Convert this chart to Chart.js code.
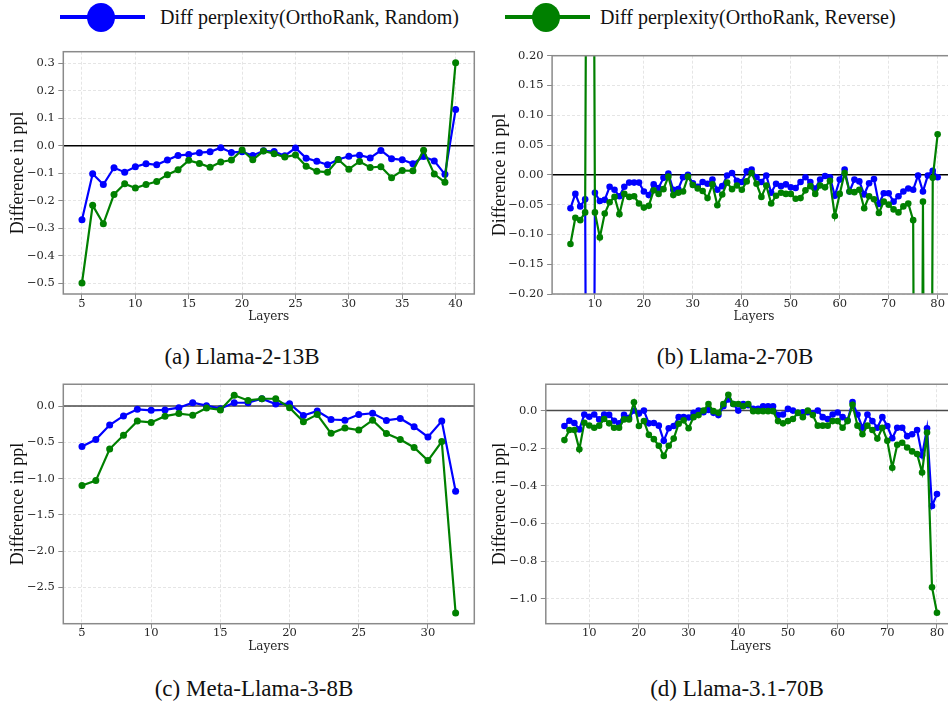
<!DOCTYPE html>
<html lang="en">
<head>
<meta charset="UTF-8">
<title>Diff perplexity OrthoRank</title>
<script src="https://cdn.jsdelivr.net/npm/chart.js"></script>
<style>
  body { margin: 0; width: 948px; height: 702px; overflow: hidden; position: relative; background: #fff; }
  canvas { position: absolute; }
  .cap { position: absolute; font-family: 'Liberation Serif', serif; font-size: 23px; line-height: 1; white-space: nowrap; transform: translateX(-50%); color: #111; }
  .legline { position: absolute; top: 15px; height: 4px; width: 85px; }
  .legdot { position: absolute; top: 3px; width: 28px; height: 29px; border-radius: 50%; }
  .legtxt { position: absolute; top: 7px; font-family: 'Liberation Serif', serif; font-size: 20px; line-height: 1; white-space: nowrap; color: #111; }
</style>
</head>
<body>
<div class="legline" style="left:60px;background:#0000ff"></div>
<div class="legdot" style="left:87px;background:#0000ff"></div>
<div class="legtxt" style="left:160px">Diff perplexity(OrthoRank, Random)</div>
<div class="legline" style="left:505px;background:#008000"></div>
<div class="legdot" style="left:532px;background:#008000"></div>
<div class="legtxt" style="left:600px">Diff perplexity(OrthoRank, Reverse)</div>

<canvas id="chartA" width="480" height="300" style="left:0;top:40px"></canvas>
<canvas id="chartB" width="480" height="300" style="left:480px;top:40px"></canvas>
<canvas id="chartC" width="480" height="300" style="left:0;top:375px"></canvas>
<canvas id="chartD" width="480" height="300" style="left:480px;top:375px"></canvas>

<div class="cap" style="left:242px;top:345px">(a) Llama-2-13B</div>
<div class="cap" style="left:735px;top:345px">(b) Llama-2-70B</div>
<div class="cap" style="left:254px;top:677px">(c) Meta-Llama-3-8B</div>
<div class="cap" style="left:737px;top:677px">(d) Llama-3.1-70B</div>

<script>
// (a) Llama-2-13B
const layersA = [5,6,7,8,9,10,11,12,13,14,15,16,17,18,19,20,21,22,23,24,25,26,27,28,29,30,31,32,33,34,35,36,37,38,39,40];
const randomA = [-0.269,-0.102,-0.141,-0.080,-0.096,-0.076,-0.065,-0.069,-0.052,-0.035,-0.032,-0.025,-0.022,-0.007,-0.024,-0.022,-0.035,-0.018,-0.021,-0.036,-0.008,-0.045,-0.056,-0.069,-0.050,-0.038,-0.034,-0.044,-0.017,-0.047,-0.051,-0.065,-0.039,-0.055,-0.104,0.132];
const reverseA = [-0.500,-0.217,-0.284,-0.177,-0.138,-0.154,-0.141,-0.130,-0.105,-0.087,-0.053,-0.064,-0.078,-0.059,-0.052,-0.015,-0.051,-0.019,-0.029,-0.041,-0.033,-0.074,-0.093,-0.096,-0.050,-0.085,-0.057,-0.079,-0.076,-0.116,-0.090,-0.091,-0.016,-0.103,-0.133,0.303];
const xTicksA = [5,10,15,20,25,30,35,40];
const yTicksA = [-0.5,-0.4,-0.3,-0.2,-0.1,0.0,0.1,0.2,0.3];

// (b) Llama-2-70B
const layersB = [5,6,7,8,9,10,11,12,13,14,15,16,17,18,19,20,21,22,23,24,25,26,27,28,29,30,31,32,33,34,35,36,37,38,39,40,41,42,43,44,45,46,47,48,49,50,51,52,53,54,55,56,57,58,59,60,61,62,63,64,65,66,67,68,69,70,71,72,73,74,75,76,77,78,79,80];
const randomB = [-0.056,-0.032,-0.053,-0.041,-2.0,-0.030,-0.044,-0.042,-0.020,-0.025,-0.036,-0.020,-0.013,-0.013,-0.013,-0.028,-0.034,-0.016,-0.022,-0.005,0.002,-0.025,-0.024,-0.004,0.000,-0.014,-0.020,-0.012,-0.015,-0.008,-0.025,-0.019,-0.001,0.003,-0.010,-0.012,0.006,0.009,-0.004,-0.012,-0.001,-0.030,-0.015,-0.019,-0.016,-0.021,-0.022,-0.012,-0.004,-0.012,-0.023,-0.008,-0.002,-0.004,-0.035,-0.008,0.009,-0.028,-0.008,-0.011,-0.033,-0.014,-0.007,-0.049,-0.031,-0.031,-0.045,-0.036,-0.028,-0.023,-0.025,-0.001,-0.028,-0.001,0.007,-0.004];
const reverseB = [-0.116,-0.072,-0.076,-0.063,2.0,-0.063,-0.105,-0.065,-0.046,-0.037,-0.066,-0.032,-0.037,-0.036,-0.048,-0.055,-0.052,-0.026,-0.032,-0.024,-0.003,-0.034,-0.030,-0.028,-0.003,-0.017,-0.023,-0.027,-0.039,-0.016,-0.051,-0.033,-0.013,-0.024,-0.018,-0.025,-0.011,0.003,-0.015,-0.037,-0.018,-0.048,-0.035,-0.030,-0.032,-0.032,-0.040,-0.039,-0.026,-0.019,-0.032,-0.018,-0.021,-0.010,-0.069,-0.032,0.003,-0.028,-0.029,-0.025,-0.056,-0.036,-0.041,-0.064,-0.045,-0.050,-0.058,-0.063,-0.053,-0.048,-0.076,-2.0,-0.045,-2.0,-0.005,0.068];
const xTicksB = [10,20,30,40,50,60,70,80];
const yTicksB = [-0.20,-0.15,-0.10,-0.05,0.00,0.05,0.10,0.15,0.20];

// (c) Meta-Llama-3-8B
const layersC = [5,6,7,8,9,10,11,12,13,14,15,16,17,18,19,20,21,22,23,24,25,26,27,28,29,30,31,32];
const randomC = [-0.557,-0.462,-0.263,-0.136,-0.045,-0.059,-0.054,-0.023,0.045,0.005,-0.036,0.045,0.045,0.100,0.027,0.032,-0.131,-0.068,-0.186,-0.195,-0.118,-0.100,-0.199,-0.172,-0.285,-0.426,-0.208,-1.173];
const reverseC = [-1.096,-1.028,-0.593,-0.403,-0.208,-0.226,-0.140,-0.104,-0.127,-0.027,-0.054,0.149,0.077,0.100,0.100,-0.023,-0.217,-0.118,-0.376,-0.303,-0.331,-0.195,-0.380,-0.462,-0.571,-0.752,-0.489,-2.853];
const xTicksC = [5,10,15,20,25,30];
const yTicksC = [-2.5,-2.0,-1.5,-1.0,-0.5,0.0];

// (d) Llama-3.1-70B
const layersD = layersB;
const randomD = [-0.082,-0.054,-0.066,-0.100,-0.021,-0.033,-0.021,-0.047,-0.021,-0.023,-0.054,-0.068,-0.023,-0.038,0.000,-0.016,0.000,-0.068,-0.066,-0.080,-0.161,-0.094,-0.082,-0.035,-0.035,-0.037,-0.012,0.000,-0.009,0.003,-0.012,-0.024,0.023,0.059,0.035,0.000,0.035,0.028,0.009,0.009,0.023,0.023,0.023,-0.024,-0.021,0.009,0.000,-0.012,-0.009,-0.009,-0.014,0.000,-0.035,-0.045,-0.021,-0.010,-0.035,-0.051,0.045,-0.021,-0.091,-0.021,-0.056,-0.091,-0.035,-0.082,-0.147,-0.091,-0.091,-0.136,-0.126,-0.103,-0.238,-0.094,-0.507,-0.444];
const reverseD = [-0.157,-0.103,-0.103,-0.206,-0.065,-0.079,-0.091,-0.080,-0.045,-0.068,-0.091,-0.091,-0.047,-0.047,0.044,-0.082,-0.056,-0.129,-0.152,-0.187,-0.241,-0.187,-0.149,-0.070,-0.052,-0.094,-0.035,-0.024,0.000,0.035,-0.003,-0.012,0.035,0.084,0.035,0.035,0.023,0.035,-0.003,-0.003,-0.003,-0.003,-0.003,-0.056,-0.068,-0.056,-0.045,-0.012,-0.035,0.000,-0.024,-0.080,-0.080,-0.080,-0.056,-0.056,-0.091,-0.056,0.031,-0.080,-0.126,-0.080,-0.103,-0.149,-0.091,-0.161,-0.304,-0.182,-0.171,-0.196,-0.217,-0.231,-0.329,-0.117,-0.939,-1.075];
const xTicksD = [10,20,30,40,50,60,70,80];
const yTicksD = [-1.0,-0.8,-0.6,-0.4,-0.2,0.0];

const BLUE = '#0000ff';
const GREEN = '#008000';
const tickFont = { family: 'DejaVu Serif', size: 11.5, lineHeight: 1 };

// frame + y=0 reference line, matplotlib style
const framePlugin = {
  id: 'frame',
  beforeDatasetsDraw(chart, args, opts) {
    const { ctx, chartArea: a, scales } = chart;
    const y0 = scales.y.getPixelForValue(0);
    ctx.save();
    ctx.strokeStyle = opts.zero;
    ctx.lineWidth = 1.5;
    ctx.beginPath();
    ctx.moveTo(a.left, y0);
    ctx.lineTo(a.right, y0);
    ctx.stroke();
    ctx.restore();
  },
  afterDatasetsDraw(chart) {
    const { ctx, chartArea: a } = chart;
    ctx.save();
    ctx.strokeStyle = '#8a8a8a';
    ctx.lineWidth = 1.5;
    ctx.strokeRect(a.left, a.top, a.right - a.left, a.bottom - a.top);
    ctx.restore();
  }
};

function series(xs, ys) {
  return xs.map((x, i) => ({ x: x, y: ys[i] }));
}

function fmt(decimals) {
  return v => v.toFixed(decimals).replace('-', '\u2212');
}

function panel(id, p) {
  return new Chart(document.getElementById(id), {
    type: 'line',
    data: {
      datasets: [{
        data: series(p.layers, p.random),
        borderColor: BLUE, backgroundColor: BLUE,
        borderWidth: 2.2, pointRadius: p.r, pointBorderWidth: 0,
        order: 1, clip: 0
      }, {
        data: series(p.layers, p.reverse),
        borderColor: GREEN, backgroundColor: GREEN,
        borderWidth: 2.2, pointRadius: p.r, pointBorderWidth: 0,
        order: 0, clip: 0
      }]
    },
    plugins: [framePlugin],
    options: {
      responsive: false,
      animation: false,
      events: [],
      layout: { padding: { left: 0, top: p.top, right: p.right, bottom: 0 } },
      plugins: {
        legend: { display: false },
        tooltip: { enabled: false },
        frame: { zero: p.zero }
      },
      scales: {
        x: {
          type: 'linear', min: p.xmin, max: p.xmax,
          afterBuildTicks: s => { s.ticks = p.xticks.map(v => ({ value: v })); },
          afterFit: s => { s.height = p.xh; },
          grid: { color: '#dedede', lineWidth: 0.8, tickLength: 5, tickColor: '#8a8a8a', tickWidth: 1 },
          border: { display: false, dash: [3, 2] },
          ticks: { font: tickFont, color: '#262626', padding: -1, maxRotation: 0, autoSkip: false },
          title: { display: true, text: 'Layers', color: '#262626',
                   font: { family: 'DejaVu Serif', size: 12 }, padding: { top: 0, bottom: p.xtpad } }
        },
        y: {
          type: 'linear', min: p.ymin, max: p.ymax,
          afterBuildTicks: s => { s.ticks = p.yticks.map(v => ({ value: v })); },
          afterFit: s => { s.width = p.yw; },
          grid: { color: '#dedede', lineWidth: 0.8, tickLength: 5, tickColor: '#8a8a8a', tickWidth: 1 },
          border: { display: false, dash: [3, 2] },
          ticks: { font: tickFont, color: '#262626', padding: 3.5, callback: fmt(p.dec) },
          title: { display: true, text: 'Difference in ppl', color: '#111',
                   font: { family: 'Liberation Serif', size: 18 }, padding: { top: p.ytpad, bottom: 0 } }
        }
      }
    }
  });
}

panel('chartA', {
  layers: layersA, random: randomA, reverse: reverseA, xticks: xTicksA, yticks: yTicksA,
  xmin: 3.25, xmax: 41.75, ymin: -0.540, ymax: 0.343, dec: 1, r: 3.5, zero: '#000',
  top: 11.7, right: 5.7, yw: 63.3, xh: 46, ytpad: 7.2, xtpad: 16.1
});
panel('chartB', {
  layers: layersB, random: randomB, reverse: reverseB, xticks: xTicksB, yticks: yTicksB,
  xmin: 1.25, xmax: 83.75, ymin: -0.2, ymax: 0.2, dec: 2, r: 3.3, zero: '#000',
  top: 15.7, right: 3.9, yw: 72.1, xh: 46, ytpad: 9.7, xtpad: 16.1
});
panel('chartC', {
  layers: layersC, random: randomC, reverse: reverseC, xticks: xTicksC, yticks: yTicksC,
  xmin: 3.65, xmax: 33.35, ymin: -3.0, ymax: 0.30, dec: 1, r: 3.5, zero: '#4a4a4a',
  top: 6, right: 5.7, yw: 63.3, xh: 51.3, ytpad: 7.2, xtpad: 21.1
});
panel('chartD', {
  layers: layersD, random: randomD, reverse: reverseD, xticks: xTicksD, yticks: yTicksD,
  xmin: 1.25, xmax: 83.75, ymin: -1.133, ymax: 0.140, dec: 1, r: 3.3, zero: '#4a4a4a',
  top: 6, right: 4.4, yw: 65.8, xh: 51.3, ytpad: 9.7, xtpad: 21.1
});
</script>
</body>
</html>
